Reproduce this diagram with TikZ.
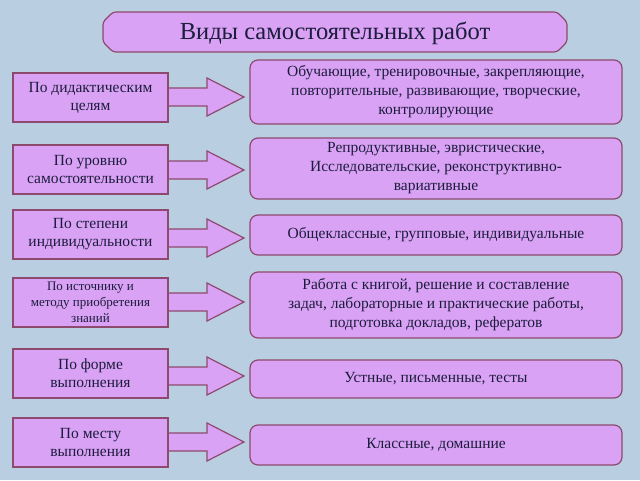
\documentclass[tikz,border=0pt]{standalone}
\usepackage{fontspec}
\setmainfont{Liberation Serif}
\definecolor{bg}{HTML}{B9CFE1}
\definecolor{vf}{HTML}{D9A2F5}
\definecolor{vb}{HTML}{8E4A6E}
\definecolor{tx}{HTML}{1C1C3C}
\begin{document}
\begin{tikzpicture}[x=1pt,y=-1pt,
  lbox/.style={draw=vb,fill=vf,line width=1.2pt,align=center,text=tx,minimum width=155pt,minimum height=49pt,inner sep=1pt,font=\fontsize{15.5}{18}\selectfont},
  rbox/.style={draw=vb,fill=vf,line width=1.2pt,rounded corners=8pt,align=center,text=tx,minimum width=372pt,inner sep=1pt,font=\fontsize{15.5}{19}\selectfont},
  barrow/.style={draw=vb,fill=vf,line width=1.2pt}]
\fill[bg] (0,0) rectangle (640,480);
\useasboundingbox (0,0) rectangle (640,480);
\draw[barrow,rounded corners=3pt] (113,12) -- (557,12) -- (567,22) -- (567,42) -- (557,52) -- (113,52) -- (103,42) -- (103,22) -- cycle;
\node[text=tx,font=\fontsize{24.5}{26}\selectfont] (title) at (335,33) {Виды самостоятельных работ};
\newcommand{\blockarrow}[1]{\draw[barrow] (168,#1-9) -- (207,#1-9) -- (207,#1-19) -- (244,#1) -- (207,#1+19) -- (207,#1+9) -- (168,#1+9) -- cycle;}
\blockarrow{97}\blockarrow{170}\blockarrow{238}\blockarrow{302}\blockarrow{376}\blockarrow{442}
\node[lbox] (l1) at (90.5,97.5) {По дидактическим\\целям};
\node[lbox] (l2) at (90.5,169.5) {По уровню\\самостоятельности};
\node[lbox] (l3) at (90.5,234.5) {По степени\\индивидуальности};
\node[lbox,font=\fontsize{13}{16}\selectfont] (l4) at (90.5,302.5) {По источнику и\\методу приобретения\\знаний};
\node[lbox] (l5) at (90.5,373.5) {По форме\\выполнения};
\node[lbox] (l6) at (90.5,442.5) {По месту\\выполнения};
\node[rbox,minimum height=64pt] (r1) at (436,92) {Обучающие, тренировочные, закрепляющие,\\повторительные, развивающие, творческие,\\контролирующие};
\node[rbox,minimum height=61pt] (r2) at (436,168.5) {Репродуктивные, эвристические,\\Исследовательские, реконструктивно-\\вариативные};
\node[rbox,minimum height=40pt] (r3) at (436,235) {Общеклассные, групповые, индивидуальные};
\node[rbox,minimum height=66pt] (r4) at (436,305) {Работа с книгой, решение и составление\\задач, лабораторные и практические работы,\\подготовка докладов, рефератов};
\node[rbox,minimum height=38pt] (r5) at (436,379) {Устные, письменные, тесты};
\node[rbox,minimum height=40pt] (r6) at (436,445) {Классные, домашние};
\end{tikzpicture}
\end{document}
